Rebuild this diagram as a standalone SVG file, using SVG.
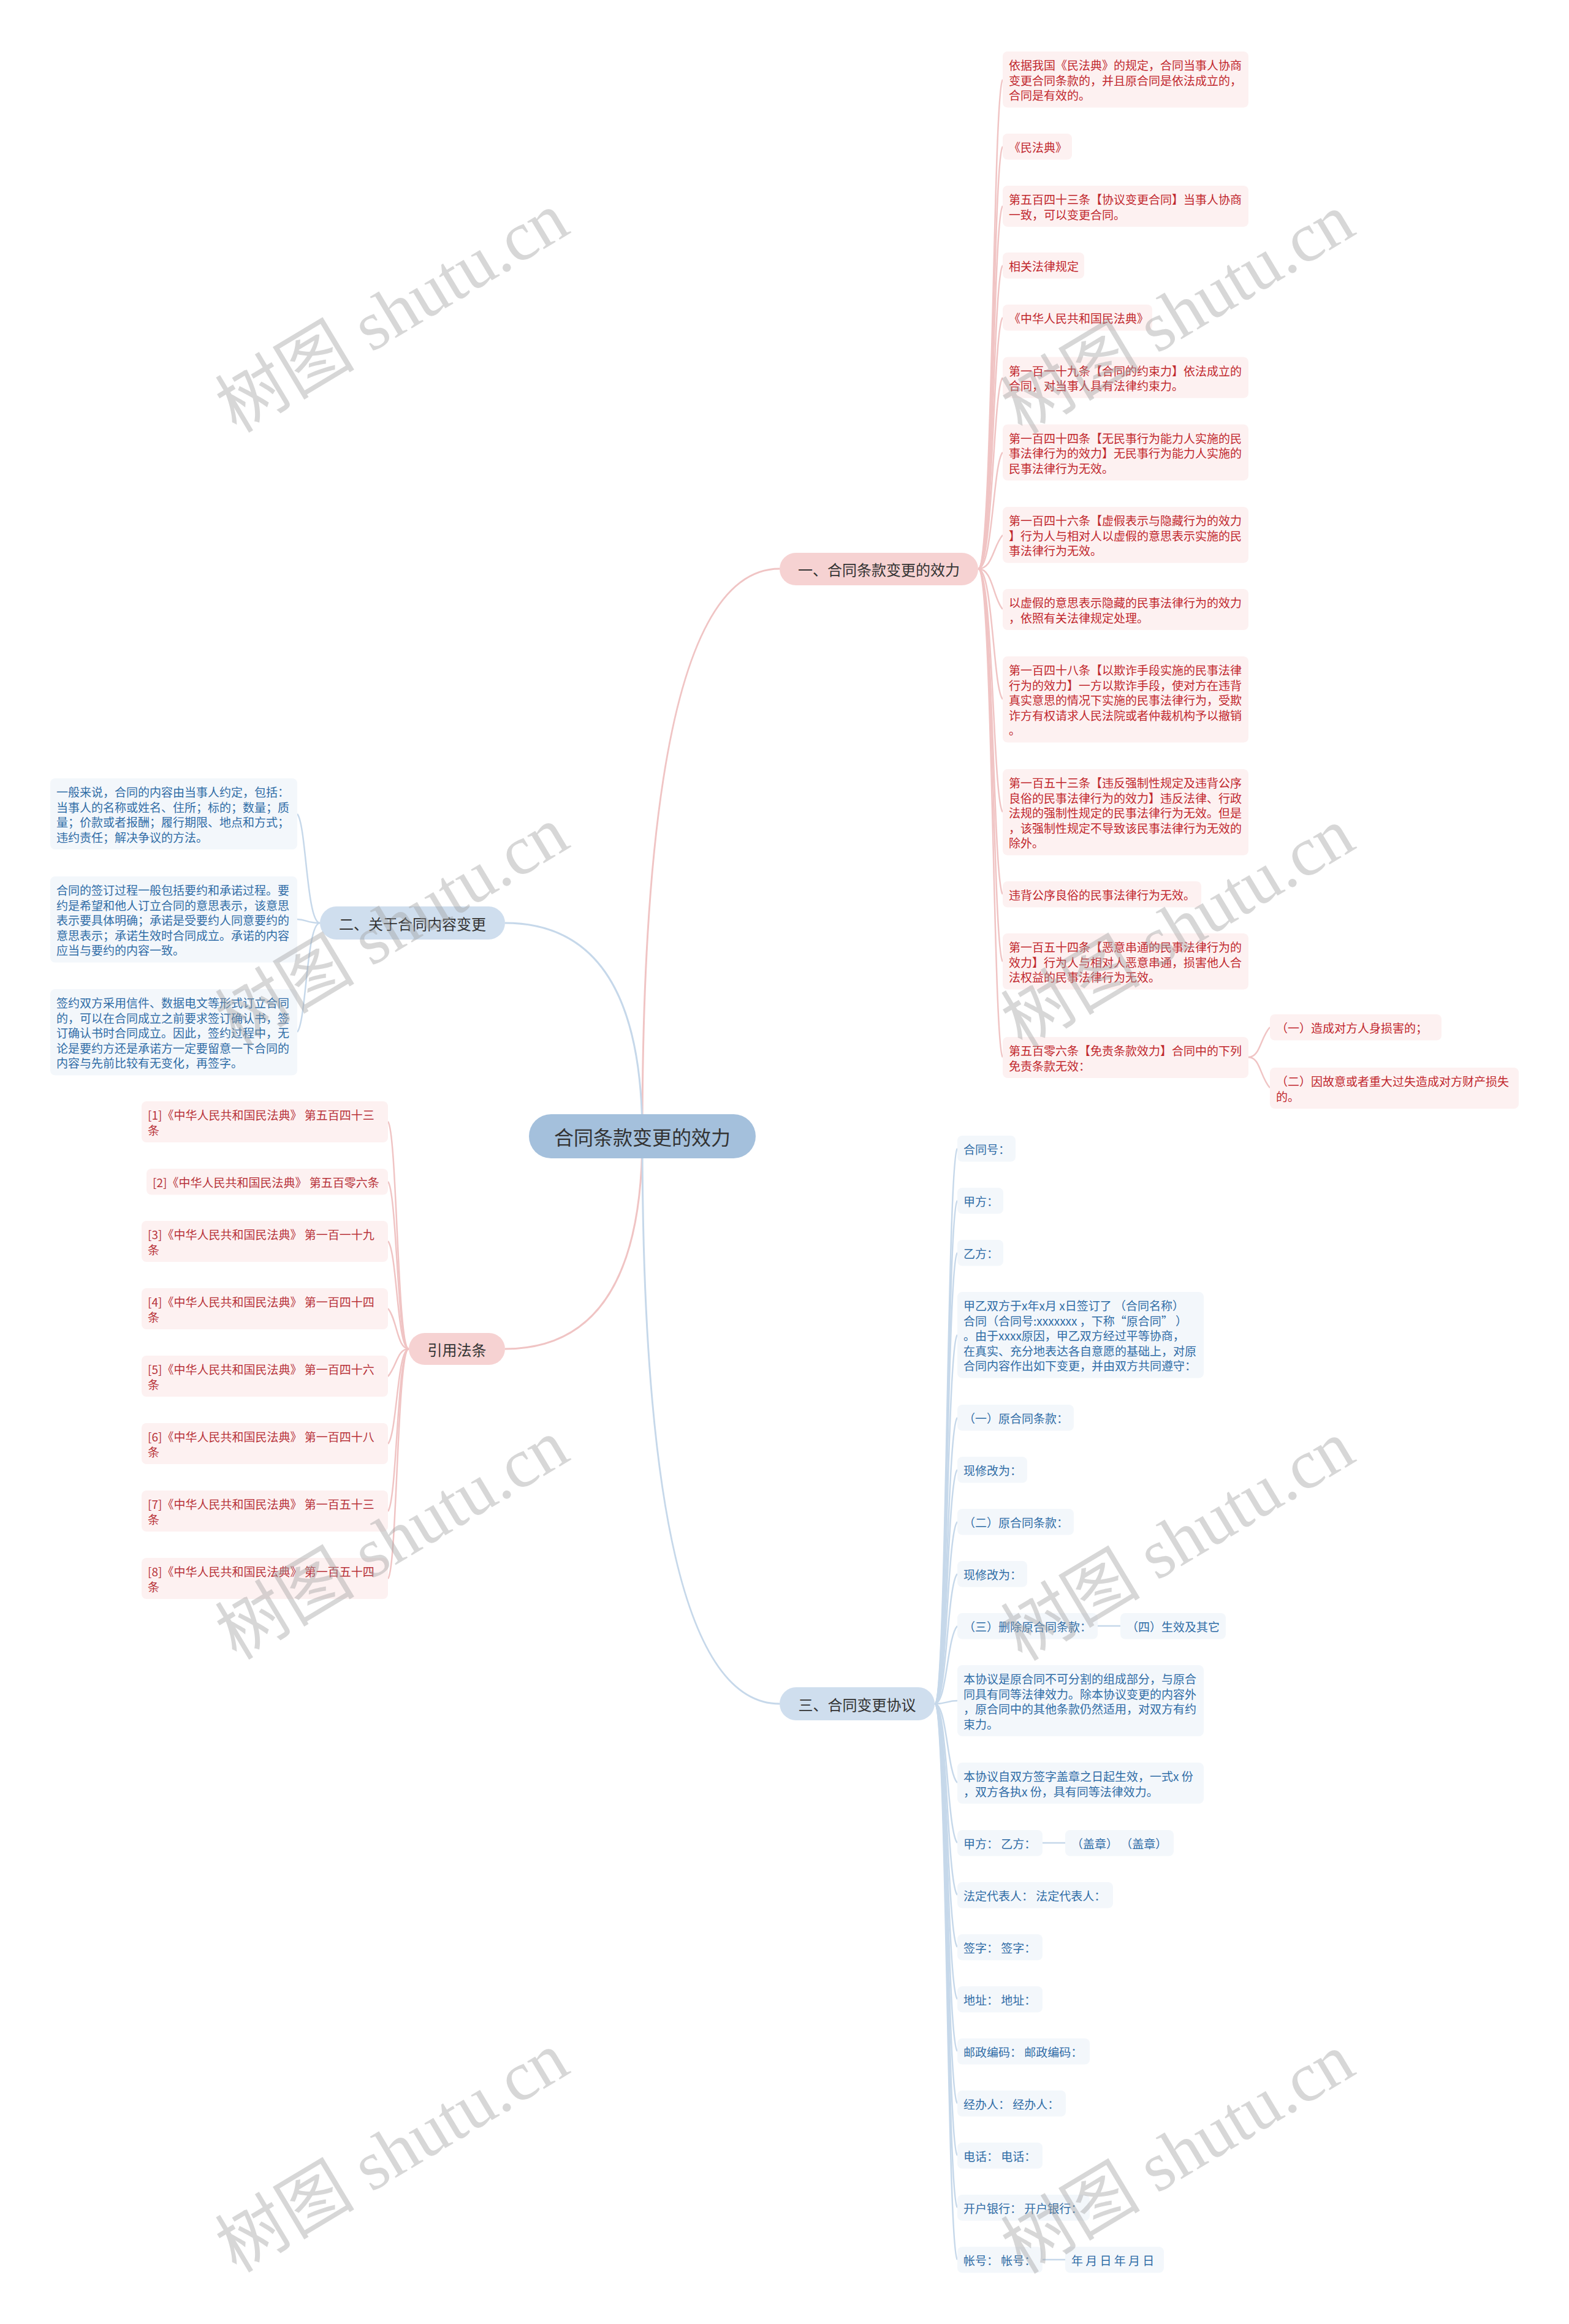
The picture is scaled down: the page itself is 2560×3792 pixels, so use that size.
<svg xmlns="http://www.w3.org/2000/svg" width="2560" height="3792" viewBox="0 0 2560 3792">
<style>
text{font-family:"Noto Sans CJK SC","Liberation Sans",sans-serif;dominant-baseline:central}
.pl{fill:#fdf1f1}
.bl{fill:#f3f7fb}
.tr{fill:#c1272d;font-size:19px}
.tc{fill:#b8333a;font-size:19px}
.tb{fill:#2f6ca6;font-size:19px}
.br{fill:#f6d2d2}
.bb{fill:#cfdeee}
.bt{fill:#333;font-size:24px}
.cr{fill:none;stroke:#f0c4c4;stroke-width:2.5}
.cb{fill:none;stroke:#c6d8ea;stroke-width:2.5}
.mr{fill:none;stroke:#f0c4c4;stroke-width:3}
.mb{fill:none;stroke:#c6d8ea;stroke-width:3}
.wm{font-family:"Liberation Serif","Noto Sans CJK SC",serif;font-size:114px;fill:#a0a0a0;fill-opacity:0.42;text-anchor:middle}
</style>
<rect width="2560" height="3792" fill="#ffffff"/>
<g id="connectors">
<path class="mr" d="M1048 1854 Q1048 928 1272 928"/>
<path class="mb" d="M1048 1854 Q1048 1506 824 1506"/>
<path class="mr" d="M1048 1854 Q1048 2201 824 2201"/>
<path class="mb" d="M1048 1854 Q1048 2780 1272 2780"/>
<path class="cr" d="M1596 928 C1620 928 1620 148 1636 130"/>
<path class="cr" d="M1596 928 C1620 928 1620 257 1636 239"/>
<path class="cr" d="M1596 928 C1620 928 1620 354 1636 336"/>
<path class="cr" d="M1596 928 C1620 928 1620 451 1636 433"/>
<path class="cr" d="M1596 928 C1620 928 1620 536 1636 518"/>
<path class="cr" d="M1596 928 C1620 928 1620 634 1636 616"/>
<path class="cr" d="M1596 928 C1620 928 1620 756 1636 738"/>
<path class="cr" d="M1596 928 C1620 928 1620 891 1636 873"/>
<path class="cr" d="M1596 928 C1620 928 1620 976 1636 994"/>
<path class="cr" d="M1596 928 C1620 928 1620 1123 1636 1141"/>
<path class="cr" d="M1596 928 C1620 928 1620 1307 1636 1325"/>
<path class="cr" d="M1596 928 C1620 928 1620 1441 1636 1459"/>
<path class="cr" d="M1596 928 C1620 928 1620 1551 1636 1569"/>
<path class="cr" d="M1596 928 C1620 928 1620 1707 1636 1725"/>
<path class="cr" d="M2037 1725 C2056 1725 2056 1694 2072 1676"/>
<path class="cr" d="M2037 1725 C2056 1725 2056 1757 2072 1775"/>
<path class="cb" d="M522 1506 C500 1506 500 1346 485 1328"/>
<path class="cb" d="M522 1506 C500 1506 500 1500 485 1500"/>
<path class="cb" d="M522 1506 C500 1506 500 1666 485 1684"/>
<path class="cr" d="M667 2201 C648 2201 648 1848 633 1830"/>
<path class="cr" d="M667 2201 C648 2201 648 1946 633 1928"/>
<path class="cr" d="M667 2201 C648 2201 648 2043 633 2025"/>
<path class="cr" d="M667 2201 C648 2201 648 2153 633 2135"/>
<path class="cr" d="M667 2201 C648 2201 648 2228 633 2246"/>
<path class="cr" d="M667 2201 C648 2201 648 2338 633 2356"/>
<path class="cr" d="M667 2201 C648 2201 648 2448 633 2466"/>
<path class="cr" d="M667 2201 C648 2201 648 2558 633 2576"/>
<path class="cb" d="M1525 2780 C1545 2780 1545 1892 1562 1874"/>
<path class="cb" d="M1525 2780 C1545 2780 1545 1977 1562 1959"/>
<path class="cb" d="M1525 2780 C1545 2780 1545 2062 1562 2044"/>
<path class="cb" d="M1525 2780 C1545 2780 1545 2196 1562 2178"/>
<path class="cb" d="M1525 2780 C1545 2780 1545 2331 1562 2313"/>
<path class="cb" d="M1525 2780 C1545 2780 1545 2416 1562 2398"/>
<path class="cb" d="M1525 2780 C1545 2780 1545 2501 1562 2483"/>
<path class="cb" d="M1525 2780 C1545 2780 1545 2586 1562 2568"/>
<path class="cb" d="M1525 2780 C1545 2780 1545 2671 1562 2653"/>
<path class="cb" d="M1525 2780 C1545 2780 1545 2775 1562 2775"/>
<path class="cb" d="M1525 2780 C1545 2780 1545 2891 1562 2909"/>
<path class="cb" d="M1525 2780 C1545 2780 1545 2989 1562 3007"/>
<path class="cb" d="M1525 2780 C1545 2780 1545 3074 1562 3092"/>
<path class="cb" d="M1525 2780 C1545 2780 1545 3159 1562 3177"/>
<path class="cb" d="M1525 2780 C1545 2780 1545 3244 1562 3262"/>
<path class="cb" d="M1525 2780 C1545 2780 1545 3329 1562 3347"/>
<path class="cb" d="M1525 2780 C1545 2780 1545 3414 1562 3432"/>
<path class="cb" d="M1525 2780 C1545 2780 1545 3499 1562 3517"/>
<path class="cb" d="M1525 2780 C1545 2780 1545 3584 1562 3602"/>
<path class="cb" d="M1525 2780 C1545 2780 1545 3669 1562 3687"/>
<path class="cb" d="M1791 2653 L1828 2653"/>
<path class="cb" d="M1701 3007 L1738 3007"/>
<path class="cb" d="M1701 3687 L1738 3687"/>
</g>
<g id="center"><rect x="863" y="1818" width="370" height="72" rx="36" fill="#a4c0dc"/><text x="1048" y="1854" text-anchor="middle" font-size="32" fill="#333">合同条款变更的效力</text></g>
<g id="b1"><rect class="br" x="1272" y="902" width="324" height="53" rx="26.5"/><text class="bt" x="1434" y="928.5" text-anchor="middle">一、合同条款变更的效力</text></g>
<g id="b2"><rect class="bb" x="522" y="1479" width="302" height="54" rx="27"/><text class="bt" x="673" y="1506" text-anchor="middle">二、关于合同内容变更</text></g>
<g id="b4"><rect class="br" x="667" y="2175" width="157" height="52" rx="26"/><text class="bt" x="745.5" y="2201" text-anchor="middle">引用法条</text></g>
<g id="b3"><rect class="bb" x="1272" y="2753" width="253" height="54" rx="27"/><text class="bt" x="1398.5" y="2780" text-anchor="middle">三、合同变更协议</text></g>

<g id="l1"><rect class="pl" x="1636" y="84" width="401" height="91.5" rx="8"/><text class="tr"><tspan x="1646" y="105.25">依据我国《民法典》的规定，合同当事人协商</tspan><tspan x="1646" y="129.75">变更合同条款的，并且原合同是依法成立的，</tspan><tspan x="1646" y="154.25">合同是有效的。</tspan></text></g>
<g id="l2"><rect class="pl" x="1636" y="218" width="113" height="42.5" rx="8"/><text class="tr" x="1646" y="239.25">《民法典》</text></g>
<g id="l3"><rect class="pl" x="1636" y="303" width="401" height="67" rx="8"/><text class="tr"><tspan x="1646" y="324.25">第五百四十三条【协议变更合同】当事人协商</tspan><tspan x="1646" y="348.75">一致，可以变更合同。</tspan></text></g>
<g id="l4"><rect class="pl" x="1636" y="412" width="133" height="42.5" rx="8"/><text class="tr" x="1646" y="433.25">相关法律规定</text></g>
<g id="l5"><rect class="pl" x="1636" y="497" width="244" height="42.5" rx="8"/><text class="tr" x="1646" y="518.25">《中华人民共和国民法典》</text></g>
<g id="l6"><rect class="pl" x="1636" y="582.5" width="401" height="67" rx="8"/><text class="tr"><tspan x="1646" y="603.75">第一百一十九条【合同的约束力】依法成立的</tspan><tspan x="1646" y="628.25">合同，对当事人具有法律约束力。</tspan></text></g>
<g id="l7"><rect class="pl" x="1636" y="692.5" width="401" height="91.5" rx="8"/><text class="tr"><tspan x="1646" y="713.75">第一百四十四条【无民事行为能力人实施的民</tspan><tspan x="1646" y="738.25">事法律行为的效力】无民事行为能力人实施的</tspan><tspan x="1646" y="762.75">民事法律行为无效。</tspan></text></g>
<g id="l8"><rect class="pl" x="1636" y="827" width="401" height="91.5" rx="8"/><text class="tr"><tspan x="1646" y="848.25">第一百四十六条【虚假表示与隐藏行为的效力</tspan><tspan x="1646" y="872.75">】行为人与相对人以虚假的意思表示实施的民</tspan><tspan x="1646" y="897.25">事法律行为无效。</tspan></text></g>
<g id="l9"><rect class="pl" x="1636" y="961" width="401" height="67" rx="8"/><text class="tr"><tspan x="1646" y="982.25">以虚假的意思表示隐藏的民事法律行为的效力</tspan><tspan x="1646" y="1006.75">，依照有关法律规定处理。</tspan></text></g>
<g id="l10"><rect class="pl" x="1636" y="1071" width="401" height="140.5" rx="8"/><text class="tr"><tspan x="1646" y="1092.25">第一百四十八条【以欺诈手段实施的民事法律</tspan><tspan x="1646" y="1116.75">行为的效力】一方以欺诈手段，使对方在违背</tspan><tspan x="1646" y="1141.25">真实意思的情况下实施的民事法律行为，受欺</tspan><tspan x="1646" y="1165.75">诈方有权请求人民法院或者仲裁机构予以撤销</tspan><tspan x="1646" y="1190.25">。</tspan></text></g>
<g id="l11"><rect class="pl" x="1636" y="1255" width="401" height="140.5" rx="8"/><text class="tr"><tspan x="1646" y="1276.25">第一百五十三条【违反强制性规定及违背公序</tspan><tspan x="1646" y="1300.75">良俗的民事法律行为的效力】违反法律、行政</tspan><tspan x="1646" y="1325.25">法规的强制性规定的民事法律行为无效。但是</tspan><tspan x="1646" y="1349.75">，该强制性规定不导致该民事法律行为无效的</tspan><tspan x="1646" y="1374.25">除外。</tspan></text></g>
<g id="l12"><rect class="pl" x="1636" y="1438" width="324" height="42.5" rx="8"/><text class="tr" x="1646" y="1459.25">违背公序良俗的民事法律行为无效。</text></g>
<g id="l13"><rect class="pl" x="1636" y="1523" width="401" height="91.5" rx="8"/><text class="tr"><tspan x="1646" y="1544.25">第一百五十四条【恶意串通的民事法律行为的</tspan><tspan x="1646" y="1568.75">效力】行为人与相对人恶意串通，损害他人合</tspan><tspan x="1646" y="1593.25">法权益的民事法律行为无效。</tspan></text></g>
<g id="l14"><rect class="pl" x="1636" y="1692" width="401" height="67" rx="8"/><text class="tr"><tspan x="1646" y="1713.25">第五百零六条【免责条款效力】合同中的下列</tspan><tspan x="1646" y="1737.75">免责条款无效：</tspan></text></g>
<g id="l14a"><rect class="pl" x="2072" y="1655" width="280" height="42.5" rx="8"/><text class="tr" x="2082" y="1676.25">（一）造成对方人身损害的；</text></g>
<g id="l14b"><rect class="pl" x="2072" y="1742" width="406" height="67" rx="8"/><text class="tr"><tspan x="2082" y="1763.25">（二）因故意或者重大过失造成对方财产损失</tspan><tspan x="2082" y="1787.75">的。</tspan></text></g>

<g id="m1"><rect class="bl" x="82" y="1270" width="403" height="116" rx="8"/><text class="tb"><tspan x="92" y="1291.25">一般来说，合同的内容由当事人约定，包括：</tspan><tspan x="92" y="1315.75">当事人的名称或姓名、住所；标的；数量；质</tspan><tspan x="92" y="1340.25">量；价款或者报酬；履行期限、地点和方式；</tspan><tspan x="92" y="1364.75">违约责任；解决争议的方法。</tspan></text></g>
<g id="m2"><rect class="bl" x="82" y="1430" width="403" height="140.5" rx="8"/><text class="tb"><tspan x="92" y="1451.25">合同的签订过程一般包括要约和承诺过程。要</tspan><tspan x="92" y="1475.75">约是希望和他人订立合同的意思表示，该意思</tspan><tspan x="92" y="1500.25">表示要具体明确；承诺是受要约人同意要约的</tspan><tspan x="92" y="1524.75">意思表示；承诺生效时合同成立。承诺的内容</tspan><tspan x="92" y="1549.25">应当与要约的内容一致。</tspan></text></g>
<g id="m3"><rect class="bl" x="82" y="1614" width="403" height="140.5" rx="8"/><text class="tb"><tspan x="92" y="1635.25">签约双方采用信件、数据电文等形式订立合同</tspan><tspan x="92" y="1659.75">的，可以在合同成立之前要求签订确认书，签</tspan><tspan x="92" y="1684.25">订确认书时合同成立。因此，签约过程中，无</tspan><tspan x="92" y="1708.75">论是要约方还是承诺方一定要留意一下合同的</tspan><tspan x="92" y="1733.25">内容与先前比较有无变化，再签字。</tspan></text></g>

<g id="c1"><rect class="pl" x="231" y="1797" width="402" height="67" rx="8"/><text class="tc"><tspan x="241" y="1818.25">[1]《中华人民共和国民法典》 第五百四十三</tspan><tspan x="241" y="1842.75">条</tspan></text></g>
<g id="c2"><rect class="pl" x="239" y="1907" width="394" height="42.5" rx="8"/><text class="tc" x="249" y="1928.25">[2]《中华人民共和国民法典》 第五百零六条</text></g>
<g id="c3"><rect class="pl" x="231" y="1992" width="402" height="67" rx="8"/><text class="tc"><tspan x="241" y="2013.25">[3]《中华人民共和国民法典》 第一百一十九</tspan><tspan x="241" y="2037.75">条</tspan></text></g>
<g id="c4"><rect class="pl" x="231" y="2102" width="402" height="67" rx="8"/><text class="tc"><tspan x="241" y="2123.25">[4]《中华人民共和国民法典》 第一百四十四</tspan><tspan x="241" y="2147.75">条</tspan></text></g>
<g id="c5"><rect class="pl" x="231" y="2212" width="402" height="67" rx="8"/><text class="tc"><tspan x="241" y="2233.25">[5]《中华人民共和国民法典》 第一百四十六</tspan><tspan x="241" y="2257.75">条</tspan></text></g>
<g id="c6"><rect class="pl" x="231" y="2322" width="402" height="67" rx="8"/><text class="tc"><tspan x="241" y="2343.25">[6]《中华人民共和国民法典》 第一百四十八</tspan><tspan x="241" y="2367.75">条</tspan></text></g>
<g id="c7"><rect class="pl" x="231" y="2432" width="402" height="67" rx="8"/><text class="tc"><tspan x="241" y="2453.25">[7]《中华人民共和国民法典》 第一百五十三</tspan><tspan x="241" y="2477.75">条</tspan></text></g>
<g id="c8"><rect class="pl" x="231" y="2542" width="402" height="67" rx="8"/><text class="tc"><tspan x="241" y="2563.25">[8]《中华人民共和国民法典》 第一百五十四</tspan><tspan x="241" y="2587.75">条</tspan></text></g>

<g id="n1"><rect class="bl" x="1562" y="1853" width="95" height="42.5" rx="8"/><text class="tb" x="1572" y="1874.25">合同号：</text></g>
<g id="n2"><rect class="bl" x="1562" y="1938" width="75" height="42.5" rx="8"/><text class="tb" x="1572" y="1959.25">甲方：</text></g>
<g id="n3"><rect class="bl" x="1562" y="2023" width="75" height="42.5" rx="8"/><text class="tb" x="1572" y="2044.25">乙方：</text></g>
<g id="n4"><rect class="bl" x="1562" y="2108" width="402" height="140.5" rx="8"/><text class="tb"><tspan x="1572" y="2129.25">甲乙双方于x年x月 x日签订了 （合同名称）</tspan><tspan x="1572" y="2153.75">合同（合同号:xxxxxxx ，下称“原合同” ）</tspan><tspan x="1572" y="2178.25">。由于xxxx原因，甲乙双方经过平等协商，</tspan><tspan x="1572" y="2202.75">在真实、充分地表达各自意愿的基础上，对原</tspan><tspan x="1572" y="2227.25">合同内容作出如下变更，并由双方共同遵守：</tspan></text></g>
<g id="n5"><rect class="bl" x="1562" y="2292" width="190" height="42.5" rx="8"/><text class="tb" x="1572" y="2313.25">（一）原合同条款：</text></g>
<g id="n6"><rect class="bl" x="1562" y="2377" width="114" height="42.5" rx="8"/><text class="tb" x="1572" y="2398.25">现修改为：</text></g>
<g id="n7"><rect class="bl" x="1562" y="2462" width="190" height="42.5" rx="8"/><text class="tb" x="1572" y="2483.25">（二）原合同条款：</text></g>
<g id="n8"><rect class="bl" x="1562" y="2547" width="114" height="42.5" rx="8"/><text class="tb" x="1572" y="2568.25">现修改为：</text></g>
<g id="n9"><rect class="bl" x="1562" y="2632" width="229" height="42.5" rx="8"/><text class="tb" x="1572" y="2653.25">（三）删除原合同条款：</text></g>
<g id="n9a"><rect class="bl" x="1828" y="2632" width="172" height="42.5" rx="8"/><text class="tb" x="1838" y="2653.25">（四）生效及其它</text></g>
<g id="n10"><rect class="bl" x="1562" y="2717" width="402" height="116" rx="8"/><text class="tb"><tspan x="1572" y="2738.25">本协议是原合同不可分割的组成部分，与原合</tspan><tspan x="1572" y="2762.75">同具有同等法律效力。除本协议变更的内容外</tspan><tspan x="1572" y="2787.25">，原合同中的其他条款仍然适用，对双方有约</tspan><tspan x="1572" y="2811.75">束力。</tspan></text></g>
<g id="n11"><rect class="bl" x="1562" y="2876" width="402" height="67" rx="8"/><text class="tb"><tspan x="1572" y="2897.25">本协议自双方签字盖章之日起生效，一式x 份</tspan><tspan x="1572" y="2921.75">，双方各执x 份，具有同等法律效力。</tspan></text></g>
<g id="n12"><rect class="bl" x="1562" y="2986" width="139" height="42.5" rx="8"/><text class="tb" x="1572" y="3007.25">甲方： 乙方：</text></g>
<g id="n12a"><rect class="bl" x="1738" y="2986" width="177" height="42.5" rx="8"/><text class="tb" x="1748" y="3007.25">（盖章） （盖章）</text></g>
<g id="n13"><rect class="bl" x="1562" y="3071" width="254" height="42.5" rx="8"/><text class="tb" x="1572" y="3092.25">法定代表人： 法定代表人：</text></g>
<g id="n14"><rect class="bl" x="1562" y="3156" width="139" height="42.5" rx="8"/><text class="tb" x="1572" y="3177.25">签字： 签字：</text></g>
<g id="n15"><rect class="bl" x="1562" y="3241" width="139" height="42.5" rx="8"/><text class="tb" x="1572" y="3262.25">地址： 地址：</text></g>
<g id="n16"><rect class="bl" x="1562" y="3326" width="216" height="42.5" rx="8"/><text class="tb" x="1572" y="3347.25">邮政编码： 邮政编码：</text></g>
<g id="n17"><rect class="bl" x="1562" y="3411" width="177" height="42.5" rx="8"/><text class="tb" x="1572" y="3432.25">经办人： 经办人：</text></g>
<g id="n18"><rect class="bl" x="1562" y="3496" width="139" height="42.5" rx="8"/><text class="tb" x="1572" y="3517.25">电话： 电话：</text></g>
<g id="n19"><rect class="bl" x="1562" y="3581" width="216" height="42.5" rx="8"/><text class="tb" x="1572" y="3602.25">开户银行： 开户银行：</text></g>
<g id="n20"><rect class="bl" x="1562" y="3666" width="139" height="42.5" rx="8"/><text class="tb" x="1572" y="3687.25">帐号： 帐号：</text></g>
<g id="n20a"><rect class="bl" x="1738" y="3666" width="161" height="42.5" rx="8"/><text class="tb" x="1748" y="3687.25">年 月 日 年 月 日</text></g>

<g id="watermark">
<text class="wm" transform="translate(640 510) rotate(-31)">树图 shutu.cn</text>
<text class="wm" transform="translate(1922 512) rotate(-31)">树图 shutu.cn</text>
<text class="wm" transform="translate(640 1512) rotate(-31)">树图 shutu.cn</text>
<text class="wm" transform="translate(1922 1514) rotate(-31)">树图 shutu.cn</text>
<text class="wm" transform="translate(640 2512) rotate(-31)">树图 shutu.cn</text>
<text class="wm" transform="translate(1922 2514) rotate(-31)">树图 shutu.cn</text>
<text class="wm" transform="translate(640 3512) rotate(-31)">树图 shutu.cn</text>
<text class="wm" transform="translate(1922 3514) rotate(-31)">树图 shutu.cn</text>
</g>
</svg>
